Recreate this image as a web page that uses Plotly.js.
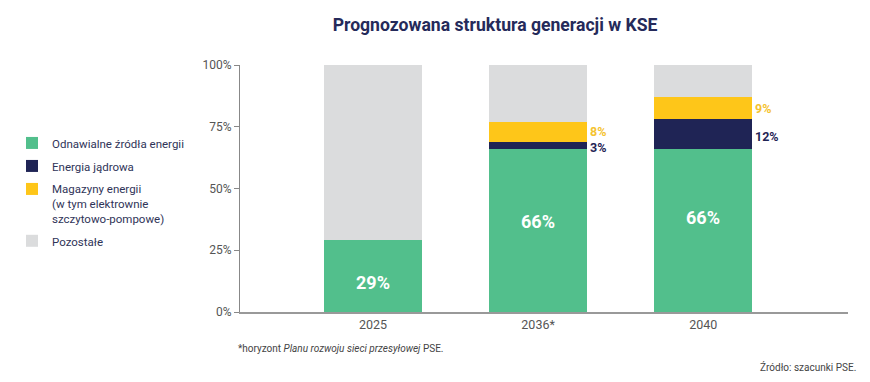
<!DOCTYPE html>
<html><head><meta charset="utf-8">
<script src="https://cdn.plot.ly/plotly-3.0.1.min.js"></script>
<style>html,body{margin:0;padding:0;background:#fff}#c{width:870px;height:382px}</style>
</head><body><div id="c"></div>
<script>
const years = ['2025', '2036*', '2040'];
const renewables = [29, 66, 66];
const nuclear = [0, 3, 12];
const storage = [0, 8, 9];
const other = [71, 23, 13];
const seriesNames = ['Odnawialne źródła energii', 'Energia jądrowa', 'Magazyny energii<br>(w tym elektrownie<br>szczytowo-pompowe)', 'Pozostałe'];
const yTicks = [0, 25, 50, 75, 100];
const colors = ['#52bf8c', '#1f2455', '#fec619', '#dbdcdd'];

const FONT = 'Roboto, sans-serif';
const vals = [renewables, nuclear, storage, other];
const traces = vals.map((v, i) => ({
  type: 'bar', x: years, y: v, name: seriesNames[i], legendgroup: 'g' + i,
  marker: {color: colors[i], line: {width: 0}},
  hoverinfo: 'none'
}));

const annotations = [];
const inShift = [-6, 9, 13];
years.forEach((yr, k) => {
  annotations.push({x: k, y: renewables[k] / 2, xref: 'x', yref: 'y',
    text: '<b>' + renewables[k] + '%</b>', showarrow: false, yshift: inShift[k],
    font: {family: FONT, size: 18, color: '#ffffff'}});
  if (storage[k] > 0) {
    annotations.push({x: k + 0.3, y: renewables[k] + nuclear[k] + storage[k] / 2, xref: 'x', yref: 'y',
      text: '<b>' + storage[k] + '%</b>', showarrow: false, xanchor: 'left',
      font: {family: FONT, size: 12.5, color: '#f5c330'}});
  }
  if (nuclear[k] > 0) {
    annotations.push({x: k + 0.3, y: renewables[k] + nuclear[k] / 2, xref: 'x', yref: 'y',
      text: '<b>' + nuclear[k] + '%</b>', showarrow: false, xanchor: 'left', yshift: -2,
      font: {family: FONT, size: 12.5, color: '#1f2455'}});
  }
});
annotations.push({xref: 'paper', yref: 'paper', x: 0, y: -0.146, xanchor: 'left', yanchor: 'middle', xshift: -4,
  text: '*horyzont <i>Planu rozwoju sieci przesyłowej</i> PSE.', showarrow: false,
  font: {family: FONT, size: 10, color: '#444'}});
annotations.push({xref: 'paper', yref: 'paper', x: 1.016, y: -0.2227, xanchor: 'right', yanchor: 'middle',
  text: 'Źródło: szacunki PSE.', showarrow: false,
  font: {family: FONT, size: 10, color: '#444'}});

const layout = {
  width: 870, height: 382,
  margin: {l: 237, r: 22, t: 65, b: 70},
  paper_bgcolor: '#fff', plot_bgcolor: '#fff',
  barmode: 'stack', bargap: 0.41,
  title: {text: '<b>Prognozowana struktura generacji w KSE</b>', x: 0.569, xanchor: 'center', y: 0.935, yanchor: 'middle',
    font: {family: FONT, size: 17.6, color: '#252a5a'}},
  xaxis: {type: 'category', range: [-0.805, 2.877], showline: true, linecolor: '#999', linewidth: 1.5,
    ticks: '', tickfont: {family: FONT, size: 12.5, color: '#555'}, fixedrange: true},
  yaxis: {range: [0, 100], tickmode: 'array', tickvals: yTicks, ticktext: yTicks.map(t => t + '%'),
    showgrid: false, zeroline: false,
    showline: true, linecolor: '#888', linewidth: 1, ticks: 'outside', ticklen: 5, tickcolor: '#888',
    tickfont: {family: FONT, size: 12, color: '#555'}, fixedrange: true},
  legend: {x: -0.375, y: 0.741, xanchor: 'left', yanchor: 'top', traceorder: 'grouped', valign: 'top',
    font: {family: FONT, size: 11.5, color: '#2f3458'}, tracegroupgap: 4, itemwidth: 30},
  annotations: annotations,
  showlegend: true
};
Plotly.newPlot('c', traces, layout, {displayModeBar: false, staticPlot: true});
</script></body></html>
